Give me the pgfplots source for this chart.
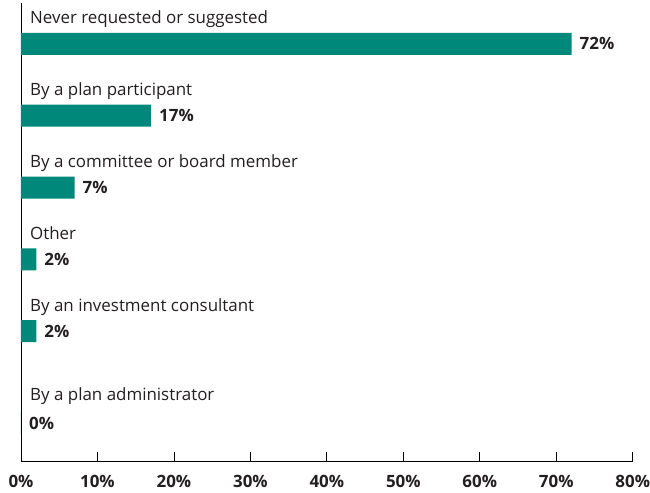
\documentclass[border=0pt]{standalone}
\usepackage{pgfplots}
\pgfplotsset{compat=1.18}
\usepackage{fontspec}
\setmainfont{Open Sans}
\definecolor{barteal}{RGB}{0,137,123}
\definecolor{txt}{RGB}{35,31,32}
\begin{document}
\begin{tikzpicture}
\begin{axis}[
  name=ax,
  scale only axis,
  width=612bp, height=459bp,
  xbar, bar width=22bp,
  xmin=0, xmax=80,
  ymin=-0.57, ymax=5.82,
  y dir=reverse,
  axis lines*=left,
  axis line style={line width=0.8bp, black},
  ytick=\empty,
  xtick={0,10,...,80},
  xticklabel={\pgfmathprintnumber{\tick}\%},
  /pgf/number format/assume math mode=true,
  xticklabel style={font=\fontsize{17}{20}\selectfont\bfseries, text=txt, inner sep=0pt, yshift=-13bp},
  tick align=inside,
  major tick length=10bp,
  tick style={line width=0.8bp, black},
  nodes near coords={\pgfmathprintnumber{\pgfplotspointmeta}\%},
  nodes near coords style={font=\fontsize{17}{20}\selectfont\bfseries, text=txt, anchor=west, inner sep=0pt, xshift=8bp},
  clip=false,
]
\addplot[fill=barteal, draw=none] coordinates {
  (72,0) (17,1) (7,2) (2,3) (2,4) (0,5.28)
};
\foreach \i/\lab in {0/Never requested or suggested, 1/By a plan participant, 2/By a committee or board member, 3/Other, 4/By an investment consultant, 5.25/By a plan administrator} {
  \edef\tmp{\noexpand\node[anchor=base west, font=\noexpand\fontsize{17}{20}\noexpand\selectfont, text=txt, inner sep=0pt, xshift=9bp] at (axis cs:0,\i-0.28) {\lab};}
  \tmp
}
\end{axis}
\path ([xshift=-21bp,yshift=-31bp]ax.south west) rectangle ([xshift=17bp,yshift=3bp]ax.north east);
\end{tikzpicture}
\end{document}
